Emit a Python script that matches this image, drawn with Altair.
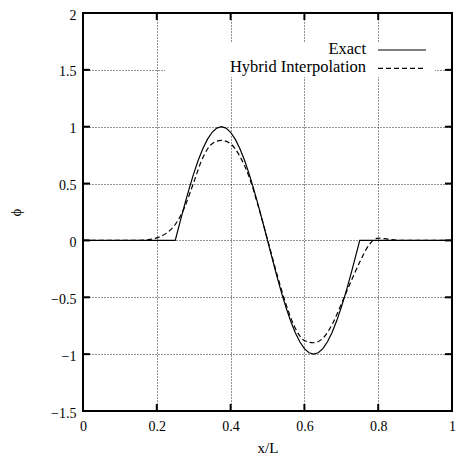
import altair as alt
import pandas as pd

# ---- data ----
exact_x = [0.0, 0.25, 0.2625, 0.275, 0.2875, 0.3, 0.3125, 0.325, 0.3375, 0.35, 0.3625,
           0.375, 0.3875, 0.4, 0.4125, 0.425, 0.4375, 0.45, 0.4625, 0.475, 0.4875,
           0.5, 0.5125, 0.525, 0.5375, 0.55, 0.5625, 0.575, 0.5875, 0.6, 0.6125,
           0.625, 0.6375, 0.65, 0.6625, 0.675, 0.6875, 0.7, 0.7125, 0.725, 0.7375,
           0.75, 1.0]
exact_y = [0.0, 0.0, 0.156, 0.309, 0.454, 0.588, 0.707, 0.809, 0.891, 0.951, 0.988,
           1.0, 0.988, 0.951, 0.891, 0.809, 0.707, 0.588, 0.454, 0.309, 0.156,
           0.0, -0.156, -0.309, -0.454, -0.588, -0.707, -0.809, -0.891, -0.951, -0.988,
           -1.0, -0.988, -0.951, -0.891, -0.809, -0.707, -0.588, -0.454, -0.309, -0.156,
           0.0, 0.0]

hybrid_x = [0.0, 0.025, 0.05, 0.075, 0.1, 0.125, 0.15, 0.175, 0.2, 0.225,
            0.25, 0.275, 0.3, 0.325, 0.35, 0.375, 0.4, 0.425, 0.45, 0.475,
            0.5, 0.525, 0.55, 0.575, 0.6, 0.625, 0.65, 0.675, 0.7, 0.725,
            0.75, 0.775, 0.8, 0.825, 0.85, 0.875, 0.9, 0.925, 0.95, 0.975, 1.0]
hybrid_y = [0.0, 0.0, 0.0, 0.0, 0.0, 0.0, 0.001, 0.006, 0.022, 0.062,
            0.14, 0.29, 0.51, 0.73, 0.85, 0.88, 0.85, 0.74, 0.56, 0.30,
            0.01, -0.29, -0.56, -0.77, -0.88, -0.90, -0.86, -0.74, -0.56, -0.37,
            -0.19, -0.04, 0.02, 0.012, 0.003, 0.0, 0.0, 0.0, 0.0, 0.0, 0.0]

x_ticks = [0.0, 0.2, 0.4, 0.6, 0.8, 1.0]
y_ticks = [-1.5, -1.0, -0.5, 0.0, 0.5, 1.0, 1.5, 2.0]
legend_labels = ["Exact", "Hybrid Interpolation"]

# ---- layout ----
W, H = 369, 398
FONT = "Liberation Serif"
TICK = 7

exact_df = pd.DataFrame({"x": exact_x, "y": exact_y})
hybrid_df = pd.DataFrame({"x": hybrid_x, "y": hybrid_y})
xt_df = pd.DataFrame({"x": x_ticks})
yt_df = pd.DataFrame({"y": y_ticks})

xscale = alt.Scale(domain=[0, 1], nice=False, zero=False)
yscale = alt.Scale(domain=[-1.5, 2], nice=False, zero=False)

x_axis = alt.Axis(values=x_ticks, format="~g", labelPadding=8,
                  titleY=41, titleBaseline="alphabetic")
y_axis = alt.Axis(values=y_ticks, format="~g", labelPadding=7, labelOffset=2,
                  titleX=-68, titleY=H / 2, titleAngle=270, titleAlign="center",
                  titleBaseline="middle")


def X():
    return alt.X("x:Q", scale=xscale, axis=x_axis, title="x/L")


def Y():
    return alt.Y("y:Q", scale=yscale, axis=y_axis, title="ϕ")


exact_line = alt.Chart(exact_df).mark_line(color="#000", strokeWidth=1.2, clip=True).encode(
    x=X(), y=Y())

hybrid_line = alt.Chart(hybrid_df).mark_line(
    color="#000", strokeWidth=1.2, strokeDash=[5, 3], interpolate="monotone", clip=True
).encode(x=X(), y=Y())

# inward ticks on all four sides (gnuplot style)
tick_style = dict(color="#000", strokeWidth=2)
left_ticks = alt.Chart(yt_df).mark_rule(**tick_style).encode(
    y=Y(), x=alt.value(0), x2=alt.value(TICK))
right_ticks = alt.Chart(yt_df).mark_rule(**tick_style).encode(
    y=Y(), x=alt.value(W), x2=alt.value(W - TICK))
bottom_ticks = alt.Chart(xt_df).mark_rule(**tick_style).encode(
    x=X(), y=alt.value(H), y2=alt.value(H - TICK))
top_ticks = alt.Chart(xt_df).mark_rule(**tick_style).encode(
    x=X(), y=alt.value(0), y2=alt.value(TICK))

# key box (gnuplot-style: label left, sample right)
key_df = pd.DataFrame({"label": legend_labels, "row": [0, 1]})
key_bg = alt.Chart(key_df.head(1)).mark_rect(color="white").encode(
    x=alt.value(82), x2=alt.value(352), y=alt.value(29), y2=alt.value(64))
key_text1 = alt.Chart(key_df.head(1)).mark_text(
    font=FONT, fontSize=16.5, align="right", baseline="alphabetic", color="#000"
).encode(text="label:N", x=alt.value(283), y=alt.value(41.3))
key_text2 = alt.Chart(key_df.tail(1)).mark_text(
    font=FONT, fontSize=16.5, align="right", baseline="alphabetic", color="#000"
).encode(text="label:N", x=alt.value(283), y=alt.value(58.7))
key_line1 = alt.Chart(key_df.head(1)).mark_rule(color="#000", strokeWidth=1.2).encode(
    x=alt.value(295), x2=alt.value(343), y=alt.value(37))
key_line2 = alt.Chart(key_df.tail(1)).mark_rule(color="#000", strokeWidth=1.2, strokeDash=[5, 3]).encode(
    x=alt.value(295), x2=alt.value(343), y=alt.value(55.3))

chart = alt.layer(
    exact_line, key_bg, hybrid_line,
    left_ticks, right_ticks, bottom_ticks, top_ticks,
    key_text1, key_text2, key_line1, key_line2,
).properties(
    width=W, height=H,
    autosize=alt.AutoSizeParams(type="none"),
    padding={"left": 83, "top": 13, "right": 4, "bottom": 50},
    background="white",
).configure_view(
    stroke="#000", strokeWidth=2
).configure_axis(
    grid=True, gridColor="#000", gridDash=[1, 2], gridWidth=1, gridOpacity=0.85,
    ticks=False, domain=False, labelFont=FONT, labelFontSize=14, labelColor="#000",
    titleFont=FONT, titleFontSize=15, titleFontWeight="normal", titleColor="#000",
    labelFlush=False, labelOverlap=False,
)

chart.save("out.html", embed_options={"renderer": "svg", "actions": False})
